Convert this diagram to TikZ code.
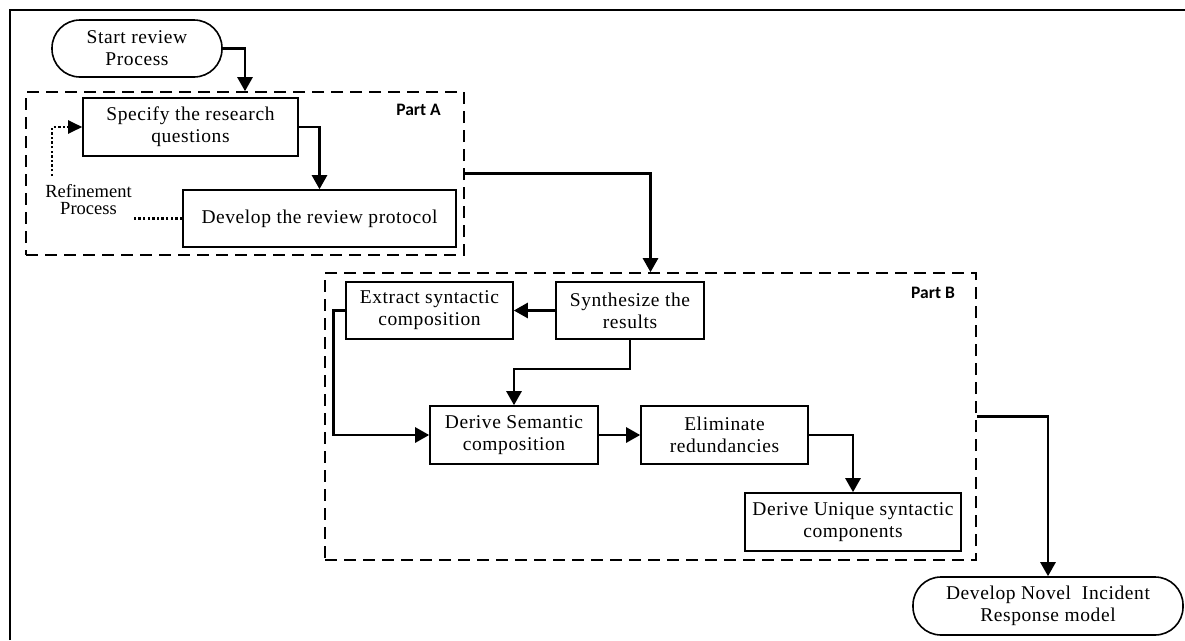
\documentclass[tikz,border=0pt]{standalone}
\usepackage{fontspec}
\setmainfont{Liberation Serif}
\newfontfamily\boxfont{Liberation Serif}[LetterSpace=3]
\newfontfamily\partfont{Carlito}
\usepackage{tikz}
\usetikzlibrary{positioning}
\usetikzlibrary{arrows.meta}

\begin{document}
\begin{tikzpicture}[x=1pt, y=-1pt, >={Triangle[length=14pt,width=15pt]},
    every node/.style = {draw, rectangle, line width=1.6pt, align=center, inner sep=2pt,
        font=\boxfont\fontsize{19.5}{22}\selectfont},
    term/.style = {rounded corners=28pt},
    region/.style = {dash pattern=on 12pt off 7pt, line width=1.6pt},
    partlabel/.style = {draw=none, font=\partfont\bfseries\fontsize{17.5}{20}\selectfont},
    flow/.style = {->, line width=2.6pt},
    refine/.style = {line width=2.4pt, dash pattern=on 2.4pt off 2.2pt, >={Triangle[length=14pt,width=13pt]}}
    ]
    \useasboundingbox (0,0) rectangle (1185,640);
    \draw[line width=2pt] (10,640) -- (10,10) -- (1185,10);

    % part A
    \node[term, minimum width=170pt, minimum height=57pt] (start) at (137,48.5) {Start review\\Process};
    \node[region, minimum width=438pt, minimum height=163pt] (partA) at (245,173.5) {};
    \node[partlabel] (labelA) at (418.5,110) {Part A};
    \node[minimum width=215pt, minimum height=58pt] (specify) at (190.5,127) {Specify the research\\questions};
    \node[minimum width=273pt, minimum height=57pt] (protocol) at (319.5,218.5) {Develop the review protocol};
    \node[draw=none, font=\rmfamily\fontsize{18.5}{17}\selectfont] (refinement) at (88.5,199.5) {Refinement\\Process};
    \coordinate (loop) at (52,176);

    % part B
    \node[region, minimum width=651pt, minimum height=287pt] (partB) at (650.5,416.5) {};
    \node[partlabel] (labelB) at (933,293) {Part B};
    \node[minimum width=167pt, minimum height=57pt] (extract) at (429.5,310.5) {Extract syntactic\\composition};
    \node[minimum width=148pt, minimum height=57pt] (synth) at (630,310.5) {Synthesize the\\results};
    \node[minimum width=168pt, minimum height=58pt] (semantic) at (514,435) {Derive Semantic\\composition};
    \node[minimum width=167pt, minimum height=58pt] (elim) at (724.5,435) {Eliminate\\redundancies};
    \node[minimum width=216pt, minimum height=58pt] (unique) at (853,522) {Derive Unique syntactic\\components};
    \node[term, minimum width=270pt, minimum height=58pt] (novel) at (1048,606) {Develop Novel\ \ Incident\\Response model};

    \draw[flow] (start.east) -| (partA.north);
    \draw[flow] (specify.east) -| (protocol.north);
    \draw[refine] (protocol.west) -- (protocol.west -| refinement.east);
    \draw[refine, ->] (loop) |- (specify.west);
    \draw[flow] (partA.east) -| (partB.north);
    \draw[flow] (synth.west) -- (extract.east);
    \draw[flow] (synth.south) -- ++(0,29) -| (semantic.north);
    \draw[flow] (extract.west) -- ++(-12,0) |- (semantic.west);
    \draw[flow] (semantic) -- (elim);
    \draw[flow] (elim.east) -| (unique.north);
    \draw[flow] (partB.east) -| (novel.north);
\end{tikzpicture}
\end{document}
